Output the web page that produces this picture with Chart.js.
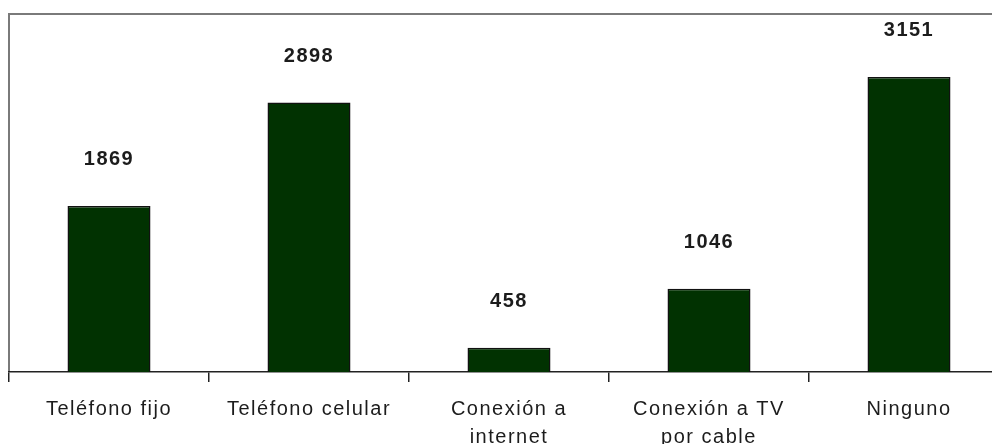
<!DOCTYPE html>
<html>
<head>
<meta charset="utf-8">
<script src="https://cdn.jsdelivr.net/npm/chart.js@4"></script>
<style>
  html, body { margin: 0; padding: 0; background: #fff; overflow: hidden; }
  #wrap { width: 1012px; height: 464px; }
</style>
</head>
<body>
<div id="wrap"><canvas id="grafik"></canvas></div>
<script>
const categorias = [
  'Teléfono fijo',
  'Teléfono celular',
  ['Conexión a', 'internet'],
  ['Conexión a TV', 'por cable'],
  'Ninguno'
];
const hogares = [1869, 2898, 458, 1046, 3151];
// the original axis does not start at zero
const yMin = 218;
const yMax = 3777;

const fuente = '"Liberation Sans", Arial, sans-serif';

// value labels above each bar + grey frame around the plot
const etiquetas = {
  id: 'etiquetas',
  beforeLayout(chart) {
    chart.ctx.letterSpacing = '1.5px';
  },
  beforeDraw(chart) {
    const a = chart.chartArea;
    const ctx = chart.ctx;
    ctx.letterSpacing = '1.5px';
    ctx.save();
    ctx.strokeStyle = '#7a7a7a';
    ctx.lineWidth = 2;
    ctx.beginPath();
    ctx.moveTo(a.left, a.bottom);
    ctx.lineTo(a.left, a.top);
    ctx.lineTo(a.right + 5, a.top);
    ctx.stroke();
    ctx.restore();
  },
  afterDatasetsDraw(chart) {
    const ctx = chart.ctx;
    const meta = chart.getDatasetMeta(0);
    ctx.save();
    ctx.font = 'bold 20px ' + fuente;
    ctx.fillStyle = '#1c1c1c';
    ctx.textAlign = 'center';
    ctx.textBaseline = 'middle';
    meta.data.forEach((bar, i) => {
      ctx.fillText(hogares[i], bar.x, bar.y - 46);
    });
    ctx.restore();
  }
};

new Chart(
  document.getElementById('grafik'),
  {
    type: 'bar',
    data: {
      labels: categorias,
      datasets: [
        {
          label: 'Hogares',
          data: hogares,
          backgroundColor: '#013201',
          borderColor: '#111',
          borderWidth: 1.5,
          categoryPercentage: 0.415,
          barPercentage: 1
        }
      ]
    },
    options: {
      responsive: true,
      maintainAspectRatio: false,
      animation: false,
      layout: { padding: { left: 9, top: 14, right: 3, bottom: 0 } },
      plugins: {
        legend: { display: false },
        tooltip: { enabled: false }
      },
      scales: {
        x: {
          grid: {
            display: true,
            drawOnChartArea: false,
            drawTicks: true,
            tickLength: 10,
            color: '#222',
            lineWidth: 1.5,
            offset: true
          },
          border: { display: true, color: '#222', width: 1.5 },
          ticks: {
            color: '#1c1c1c',
            padding: 13,
            maxRotation: 0,
            autoSkip: false,
            font: { family: fuente, size: 20, lineHeight: 1.4 }
          }
        },
        y: {
          display: false,
          min: yMin,
          max: yMax
        }
      }
    },
    plugins: [etiquetas]
  }
);
</script>
</body>
</html>
